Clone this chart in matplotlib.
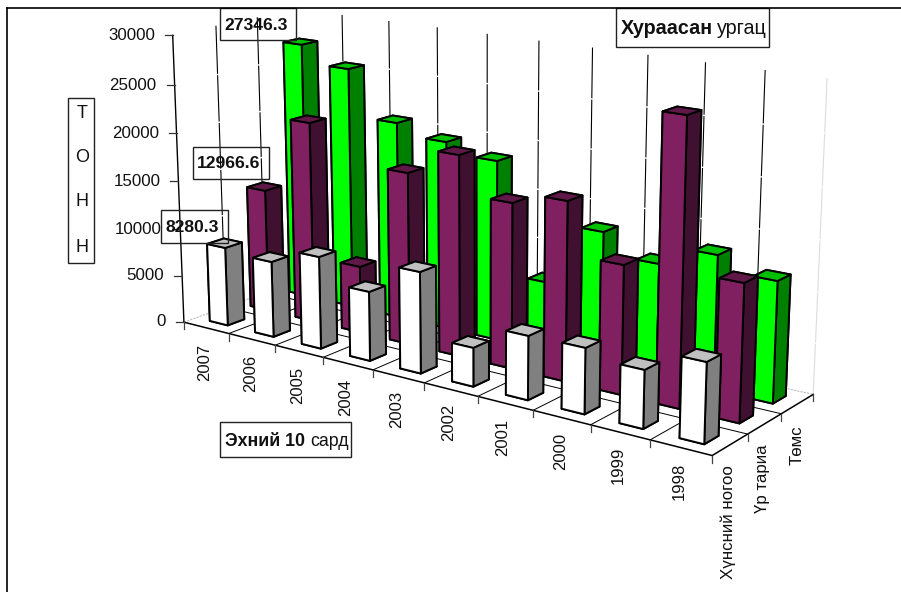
import numpy as np
import matplotlib
matplotlib.use("Agg")
import matplotlib.pyplot as plt
from matplotlib.patches import Rectangle
from mpl_toolkits.mplot3d import proj3d

plt.rcParams['font.family'] = ['Liberation Sans', 'DejaVu Sans']

years = ["2007", "2006", "2005", "2004", "2003", "2002", "2001", "2000", "1999", "1998"]
series = ["Хүнсний ногоо", "Үр тариа", "Төмс"]
vegetables = [8280.3, 7884, 9488, 7042, 10174, 3845, 6265, 6363, 5570, 7604]
grain = [12966.6, 20983, 6943, 17637, 20338, 16562, 17735, 12645, 27524, 13187]
potato = [27346.3, 25508, 20667, 19554, 18503, 7092, 13322, 11228, 13190, 11813]
z_ticks = [0, 5000, 10000, 15000, 20000, 25000, 30000]

# front, side and top colours per series
bar_colors = [("#ffffff", "#808080", "#c0c0c0"),
              ("#802060", "#401030", "#601848"),
              ("#00ff00", "#008000", "#00c000")]

fig = plt.figure(figsize=(9.01, 5.92), dpi=100)

# camera fitted to the axis corners of the picture
ax = fig.add_axes([178.64 / 901, 78.92 / 592, 592 / 901, 1], projection='3d', computed_zorder=False)
ax.set_xlim(0, 10)
ax.set_ylim(0, 3)
ax.set_zlim(0, 30000)
ax.view_init(15.1097, -54.0291)
ax.set_proj_type('persp', focal_length=0.6527)
box = (2.0285, 0.6094, 0.9728)
ax.set_box_aspect(box, zoom=np.linalg.norm(box) / (1.8294640721620434 * 25 / 24))
ax.set_axis_off()
ax.patch.set_alpha(0)


def line3d(x, y, z, **kw):
    ax.plot(x, y, z, **kw)


# walls
for i in range(1, 10 + 1):
    c = "#dddddd" if i == 10 else "black"
    line3d([i, i], [3, 3], [0, 30000], color=c, lw=0.8, zorder=1)
for s in [1, 2]:
    line3d([0, 0], [s, s], [0, 30000], color="black", lw=0.8, zorder=1)
for t in z_ticks[1:-1]:
    line3d([0, 0, 10], [0, 3, 3], [t, t, t], color="white", lw=1, zorder=2)
line3d([0, 0], [0, 0], [0, 30000], color="black", lw=1, zorder=3)

# floor
for i in range(1, 10):
    line3d([i, i], [0, 3], [0, 0], color="black", lw=0.7, zorder=3)
for s in [1, 2]:
    line3d([0, 10], [s, s], [0, 0], color="black", lw=0.7, zorder=3)
line3d([0, 0], [0, 3], [0, 0], color="#bbbbbb", lw=0.8, ls=(0, (2, 1)), zorder=3)
line3d([0, 10], [3, 3], [0, 0], color="#bbbbbb", lw=0.8, ls=(0, (2, 1)), zorder=3)
line3d([0, 10, 10], [0, 0, 3], [0, 0, 0], color="black", lw=1.1, zorder=4)

# bars, painted from the back row to the front row
bar_w = 0.4
gap = 0.3
order = 10
for s, values in reversed(list(enumerate([vegetables, grain, potato]))):
    front, side, top = bar_colors[s]
    for i, v in enumerate(values):
        # face order in bar3d: bottom, top, -y, +y, -x, +x
        ax.bar3d(i + gap, s + gap, 0, bar_w, bar_w, v, shade=False,
                 color=[front, top, front, side, front, side],
                 edgecolor="black", linewidth=1.4, zorder=order)
        order += 1

# the square axes is narrower than the chart
for child in ax.get_children():
    child.set_clip_on(False)

ax.apply_aspect()
M = ax.get_proj()


def to_px(x, y, z):
    x2, y2, _ = proj3d.proj_transform(np.array([x], float), np.array([y], float), np.array([z], float), M)
    d = ax.transData.transform(np.c_[x2, y2])[0]
    return d[0], 592 - d[1]


# overlay in pixels for ticks, labels and boxes
ov = fig.add_axes([0, 0, 1, 1], zorder=5)
ov.set_xlim(0, 901)
ov.set_ylim(592, 0)
ov.axis('off')

ov.plot([7, 7], [592, 8], color="black", lw=1.2)
ov.plot([7, 901], [8, 8], color="black", lw=1.2)

for t in z_ticks:
    px, py = to_px(0, 0, t)
    ov.plot([px - 8, px], [py, py], color="#333333", lw=0.9)
for i in range(11):
    px, py = to_px(i, 0, 0)
    ov.plot([px, px], [py, py + 7], color="#444444", lw=0.9)
for s in range(1, 4):
    px, py = to_px(10, s, 0)
    ov.plot([px, px], [py, py + 7], color="#444444", lw=0.9)

z_label_x = [166, 164, 162, 161, 159, 156, 155]
z_label_y = [322, 276, 230, 182, 133, 85, 36]
for t, lx, ly in zip(z_ticks, z_label_x, z_label_y):
    ov.text(lx, ly, str(t), ha="right", va="center", fontsize=12.2, color="#111111")

year_x = [205, 251, 298, 346, 397, 449, 503, 561, 618, 679]
year_top = [344, 355, 367, 379, 391, 404, 419, 433, 447, 463]
for name, lx, ly in zip(years, year_x, year_top):
    ov.text(lx, ly, name, rotation=90, ha="center", va="top", fontsize=12, color="#111111")

series_x = [728, 763, 797]
series_top = [465, 444, 425]
for name, lx, ly in zip(series, series_x, series_top):
    ov.text(lx, ly, name, rotation=90, ha="center", va="top", fontsize=12.2, color="#111111")


def boxed(x0, y0, x1, y1):
    ov.add_patch(Rectangle((x0, y0), x1 - x0, y1 - y0, fill=False, edgecolor="#222222", lw=1))


# value callouts
boxed(220, 8, 296, 40)
ov.text(256, 25, "27346.3", ha="center", va="center", fontsize=12.6, fontweight="bold", color="#111111")
boxed(193, 147, 269, 179)
ov.text(229, 163, "12966.6", ha="center", va="center", fontsize=12.6, fontweight="bold", color="#111111")
boxed(161, 210, 228, 243)
ov.text(192, 227, "8280.3", ha="center", va="center", fontsize=12.6, fontweight="bold", color="#111111")

# axis title, one letter per line
boxed(68, 98, 94, 263)
for ch, ly in zip("ТОНН", [114, 158, 202, 247]):
    ov.text(82, ly, ch, ha="center", va="center", fontsize=13, color="#111111")

boxed(616, 8, 769, 47)
ov.text(621, 34, "Хураасан", ha="left", va="baseline", fontsize=14.2, fontweight="bold", color="#111111")
ov.text(717, 34, "ургац", ha="left", va="baseline", fontsize=14.2, color="#111111")

boxed(220, 422, 351, 457)
ov.text(225, 446, "Эхний 10", ha="left", va="baseline", fontsize=12.8, fontweight="bold", color="#111111")
ov.text(310, 446, "сард", ha="left", va="baseline", fontsize=12.8, color="#111111")

fig.savefig('out.png', dpi=100)
